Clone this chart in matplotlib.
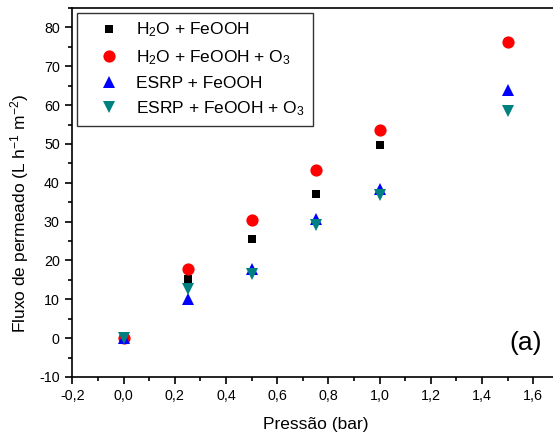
import matplotlib
matplotlib.use("Agg")
import matplotlib.pyplot as plt
from matplotlib.ticker import MultipleLocator, FuncFormatter

plt.rcParams['font.family'] = ['Liberation Sans', 'DejaVu Sans']
plt.rcParams['mathtext.default'] = 'regular'

pressure = [0.0, 0.25, 0.5, 0.75, 1.0, 1.5]
h2o_feooh = [0.0, 15.3, 25.4, 37.0, 49.6, 76.3]
h2o_feooh_o3 = [0.0, 17.8, 30.5, 43.2, 53.5, 76.3]
esrp_feooh = [0.0, 10.2, 17.8, 30.6, 38.3, 63.8]
esrp_feooh_o3 = [0.0, 12.6, 16.6, 29.2, 36.8, 58.6]

series = [
    (h2o_feooh, 's', '#000000', 'H$_2$O + FeOOH', 6.4),
    (h2o_feooh_o3, 'o', '#ff0000', 'H$_2$O + FeOOH + O$_3$', 8.8),
    (esrp_feooh, '^', '#0000ff', 'ESRP + FeOOH', 8.5),
    (esrp_feooh_o3, 'v', '#008080', 'ESRP + FeOOH + O$_3$', 8.5),
]

fig = plt.figure(figsize=(5.53, 4.37), dpi=100)
ax = fig.add_axes([0.1307, 0.1373, 0.88, 0.8444])

for i, (vals, mk, col, lab, ms) in enumerate(series):
    ax.plot(pressure, vals, linestyle='none', marker=mk, color=col,
            markersize=ms, markeredgewidth=0, label=lab, zorder=3 + i)

ax.set_xlim(-0.2, 1.7)
ax.set_ylim(-10, 85)
ax.xaxis.set_major_locator(MultipleLocator(0.2))
ax.xaxis.set_minor_locator(MultipleLocator(0.1))
ax.yaxis.set_major_locator(MultipleLocator(10))
ax.yaxis.set_minor_locator(MultipleLocator(5))
ax.xaxis.set_major_formatter(FuncFormatter(lambda v, p: f"{v:.1f}".replace('.', ',').replace('-0,0', '0,0')))
ax.yaxis.set_major_formatter(FuncFormatter(lambda v, p: f"{v:.0f}"))
ax.tick_params(which='major', direction='out', length=5, width=1.2, labelsize=10.3, pad=4)
ax.tick_params(which='minor', direction='out', length=3, width=1.2)
for sp in ax.spines.values():
    sp.set_linewidth(1.2)
ax.spines['right'].set_visible(False)

ax.set_xlabel('Pressão (bar)', fontsize=12.5, labelpad=10)
ax.set_ylabel('Fluxo de permeado (L h$^{-1}$ m$^{-2}$)', fontsize=12.5)
ax.yaxis.set_label_coords(-0.085, 0.445)

leg = ax.legend(loc='upper left', bbox_to_anchor=(0.0103, 0.9865), borderaxespad=0,
                fontsize=12.5, frameon=True, fancybox=False, edgecolor='black',
                handletextpad=0.25, borderpad=0.45, labelspacing=0.5,
                handlelength=2.7)
leg.get_frame().set_linewidth(1.0)

ax.text(0.965, 0.06, '(a)', transform=ax.transAxes, ha='right', va='bottom', fontsize=19)

fig.savefig('out.png', dpi=100)
